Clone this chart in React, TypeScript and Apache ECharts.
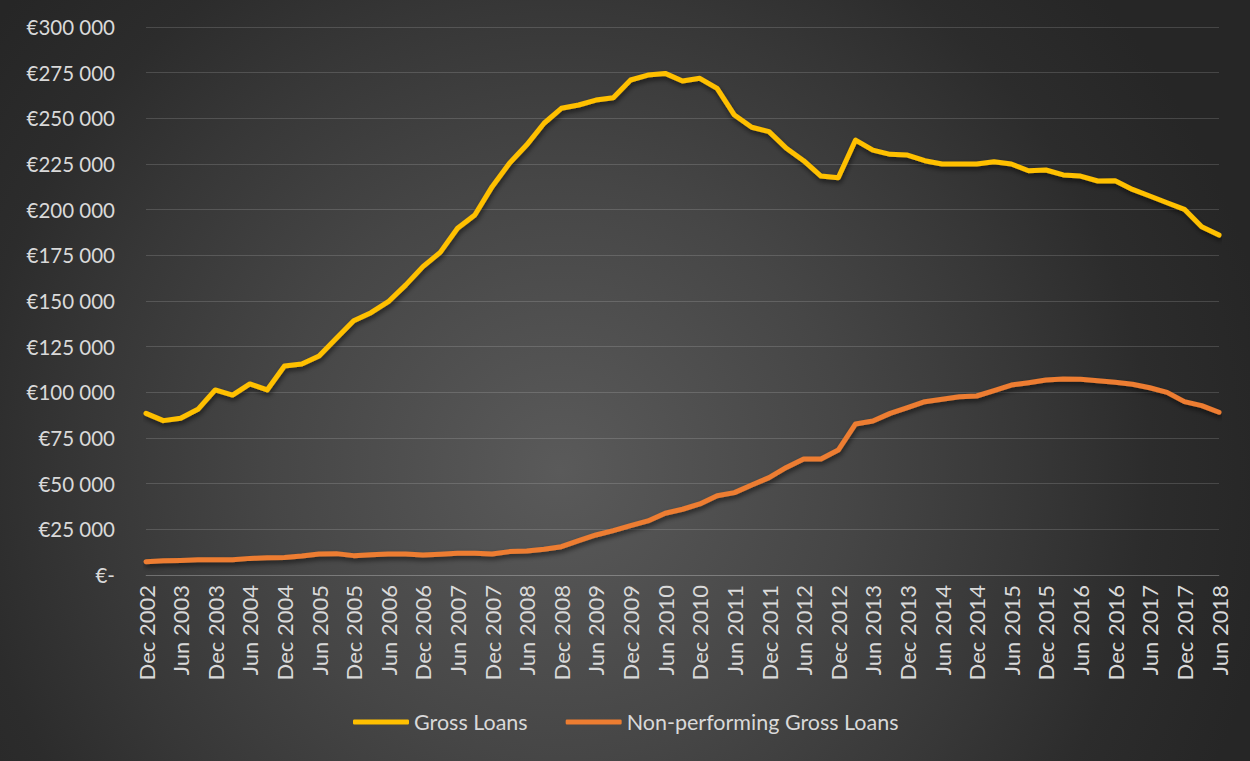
import React, { useEffect, useRef } from "react";
import * as echarts from "echarts";

const categories: string[] = [
  "Dec 2002", "Mar 2003", "Jun 2003", "Sep 2003", "Dec 2003", "Mar 2004", "Jun 2004", "Sep 2004",
  "Dec 2004", "Mar 2005", "Jun 2005", "Sep 2005", "Dec 2005", "Mar 2006", "Jun 2006", "Sep 2006",
  "Dec 2006", "Mar 2007", "Jun 2007", "Sep 2007", "Dec 2007", "Mar 2008", "Jun 2008", "Sep 2008",
  "Dec 2008", "Mar 2009", "Jun 2009", "Sep 2009", "Dec 2009", "Mar 2010", "Jun 2010", "Sep 2010",
  "Dec 2010", "Mar 2011", "Jun 2011", "Sep 2011", "Dec 2011", "Mar 2012", "Jun 2012", "Sep 2012",
  "Dec 2012", "Mar 2013", "Jun 2013", "Sep 2013", "Dec 2013", "Mar 2014", "Jun 2014", "Sep 2014",
  "Dec 2014", "Mar 2015", "Jun 2015", "Sep 2015", "Dec 2015", "Mar 2016", "Jun 2016", "Sep 2016",
  "Dec 2016", "Mar 2017", "Jun 2017", "Sep 2017", "Dec 2017", "Mar 2018", "Jun 2018",
];

const grossLoans: number[] = [
  88500, 84500, 85800, 90700, 101300, 98500, 104600, 101300, 114400, 115500,
  119900, 129600, 139200, 143600, 149600, 158700, 168800, 176600, 189800, 197100,
  212600, 225400, 235500, 247300, 255500, 257300, 260000, 261300, 271000, 273700,
  274600, 270400, 271900, 266400, 251800, 245100, 242700, 233600, 226800, 218400,
  217500, 238100, 232600, 230300, 229900, 226800, 225000, 225000, 225000, 226200,
  225000, 221300, 221700, 219000, 218400, 215700, 215800, 211100, 207500, 203800,
  200200, 190700, 186100,
];

const nplLoans: number[] = [
  7300, 7800, 8000, 8400, 8400, 8400, 9100, 9500, 9600, 10400,
  11500, 11700, 10600, 11100, 11500, 11500, 10900, 11300, 11900, 11900,
  11500, 12800, 13100, 14100, 15500, 18800, 21900, 24300, 27000, 29600,
  33800, 36000, 38900, 43400, 45100, 49300, 53300, 58900, 63500, 63500,
  68400, 82700, 84300, 88500, 91600, 94900, 96200, 97600, 98000, 100900,
  104000, 105300, 106700, 107300, 107100, 106400, 105500, 104400, 102500, 100000,
  94900, 92700, 89100,
];

const seriesNames: string[] = ["Gross Loans", "Non-performing Gross Loans"];
const seriesColors: string[] = ["#FFC000", "#ED7D31"];

const yMin = 0;
const yMax = 300000;
const yStep = 25000;

function formatEuro(v: number): string {
  if (v === 0) return "€-";
  const s = String(Math.round(v));
  return "€" + s.replace(/\B(?=(\d{3})+(?!\d))/g, " ");
}

export default function App() {
  const ref = useRef<HTMLDivElement>(null);

  useEffect(() => {
    if (!ref.current) return;
    const chart = echarts.init(ref.current, undefined, { renderer: "svg" });
    const font = "Lato, 'Open Sans', sans-serif";
    const lineShadow = {
      shadowColor: "rgba(0,0,0,0.55)",
      shadowBlur: 5,
      shadowOffsetX: 1,
      shadowOffsetY: 3,
    };
    const option: any = {
      animation: false,
      graphic: [
        {
          type: "rect",
          z: -100,
          silent: true,
          shape: { x: 0, y: 0, width: 1250, height: 761 },
          style: {
            fill: new echarts.graphic.RadialGradient(
              560,
              470,
              720,
              [
                { offset: 0, color: "#5a5a5a" },
                { offset: 0.4, color: "#464646" },
                { offset: 0.65, color: "#373737" },
                { offset: 0.82, color: "#2c2c2c" },
                { offset: 1, color: "#262626" },
              ],
              true
            ),
          },
        },
      ],
      grid: {
        left: 146,
        right: 31,
        top: 27,
        bottom: 186,
        containLabel: false,
      },
      legend: {
        data: seriesNames,
        left: 348,
        top: 706,
        icon: "roundRect",
        itemWidth: 56,
        itemHeight: 5,
        itemGap: 38,
        textStyle: {
          color: "#d9d9d9",
          fontFamily: font,
          fontSize: 21.5,
        },
      },
      xAxis: {
        type: "category",
        data: categories,
        boundaryGap: false,
        axisLine: { show: true, lineStyle: { color: "rgba(255,255,255,0.15)", width: 1 } },
        axisTick: { show: false },
        axisLabel: {
          interval: 1,
          rotate: 90,
          margin: 10,
          color: "#d9d9d9",
          fontFamily: font,
          fontSize: 22,
        },
        splitLine: { show: false },
      },
      yAxis: {
        type: "value",
        min: yMin,
        max: yMax,
        interval: yStep,
        axisLine: { show: false },
        axisTick: { show: false },
        axisLabel: {
          margin: 31,
          color: "#d9d9d9",
          fontFamily: font,
          fontSize: 20.5,
          formatter: (v: number) => formatEuro(v),
        },
        splitLine: { lineStyle: { color: "rgba(255,255,255,0.15)", width: 1 } },
      },
      series: [
        {
          name: seriesNames[0],
          type: "line",
          data: grossLoans,
          showSymbol: false,
          symbol: "none",
          color: seriesColors[0],
          lineStyle: { color: seriesColors[0], width: 5, cap: "round", join: "round", ...lineShadow },
          z: 3,
        },
        {
          name: seriesNames[1],
          type: "line",
          data: nplLoans,
          showSymbol: false,
          symbol: "none",
          color: seriesColors[1],
          lineStyle: { color: seriesColors[1], width: 5, cap: "round", join: "round", ...lineShadow },
          z: 2,
        },
      ],
    };
    chart.setOption(option);
    return () => chart.dispose();
  }, []);

  return (
    <div
      ref={ref}
      style={{ position: "absolute", left: 0, top: 0, width: 1250, height: 761 }}
    />
  );
}
